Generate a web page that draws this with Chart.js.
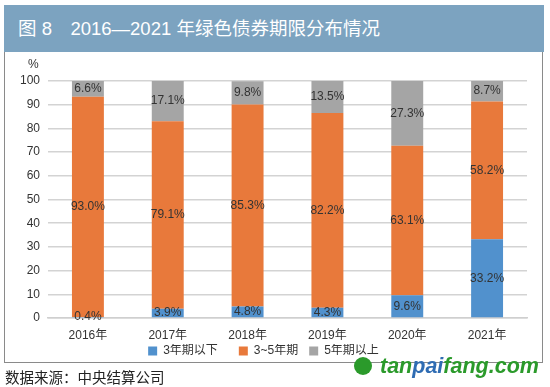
<!DOCTYPE html>
<html lang="zh">
<head>
<meta charset="UTF-8">
<title>2016—2021年绿色债券期限分布情况</title>
<script src="https://cdn.jsdelivr.net/npm/chart.js"></script>
<style>
    body {
        margin: 0;
        width: 550px;
        height: 387px;
        position: relative;
        background: #ffffff;
        font-family: "Liberation Sans", "Noto Sans CJK SC", sans-serif;
        overflow: hidden;
    }
    .banner {
        position: absolute;
        left: 4px; top: 5px;
        width: 540px; height: 47px;
        background: #7ca3c0;
        color: #fff;
        font-size: 18.5px;
        line-height: 47px;
        padding-left: 14px;
        box-sizing: border-box;
    }
    .frame {
        position: absolute;
        left: 4px; top: 52px;
        width: 539px; height: 311px;
        border: 1px solid #8a8a8a;
        border-top: none;
        box-sizing: border-box;
    }
    #wrap {
        position: absolute;
        left: 0; top: 52px;
        width: 550px; height: 315px;
    }
    .unit {
        position: absolute;
        left: 28px; top: 57px;
        font-size: 12px;
        color: #333;
    }
    .source {
        position: absolute;
        left: 5px; top: 366px;
        font-size: 14.5px;
        color: #222;
    }
    .mark {
        position: absolute;
        left: 354px; top: 354px;
        font: italic bold 21.5px "Liberation Sans", sans-serif;
        color: #2b9a2b;
    }
    .mark .dot {
        display: inline-block;
        width: 18px; height: 18px;
        border-radius: 50%;
        background: #2b9a2b;
        vertical-align: -2px;
        margin-right: 8px;
    }
    .mark .pai { color: #2f6cb3; }
</style>
</head>
<body>
<div class="banner">图 8　2016—2021 年绿色债券期限分布情况</div>
<div class="frame"></div>
<div id="wrap"><canvas id="chart"></canvas></div>
<div class="unit">%</div>
<div class="source">数据来源：中央结算公司</div>
<div class="mark"><span class="dot"></span>tan<span class="pai">pai</span>fang.com</div>

<script>
    const years = ['2016年', '2017年', '2018年', '2019年', '2020年', '2021年'];
    const shortTerm = [0.4, 3.9, 4.8, 4.3, 9.6, 33.2];   // 3年期以下
    const midTerm = [93.0, 79.1, 85.3, 82.2, 63.1, 58.2]; // 3~5年期
    const longTerm = [6.6, 17.1, 9.8, 13.5, 27.3, 8.7];   // 5年期以上
    const yTicks = [0, 10, 20, 30, 40, 50, 60, 70, 80, 90, 100];

    const fontFamily = '"Liberation Sans", "Noto Sans CJK SC", sans-serif';
    // 图例项之间的空白（原图间距不均匀）
    const legendGaps = ['      ', '   ', ''];

    // 数值标签画在每段柱子中间
    const segmentLabels = {
        id: 'segmentLabels',
        afterDatasetsDraw(chart) {
            const ctx = chart.ctx;
            ctx.save();
            ctx.font = '12px ' + fontFamily;
            ctx.fillStyle = '#333';
            ctx.textAlign = 'center';
            ctx.textBaseline = 'middle';
            chart.data.datasets.forEach((ds, i) => {
                const meta = chart.getDatasetMeta(i);
                meta.data.forEach((bar, j) => {
                    const mid = (bar.y + bar.base) / 2;
                    ctx.fillText(ds.data[j].toFixed(1) + '%', bar.x, mid);
                });
            });
            ctx.restore();
        }
    };

    new Chart(document.getElementById('chart'), {
        type: 'bar',
        data: {
            labels: years,
            datasets: [
                { label: '3年期以下', data: shortTerm, backgroundColor: '#5191cd' },
                { label: '3~5年期', data: midTerm, backgroundColor: '#e8793b' },
                { label: '5年期以上', data: longTerm, backgroundColor: '#a5a5a5' }
            ]
        },
        options: {
            responsive: true,
            maintainAspectRatio: false,
            animation: false,
            categoryPercentage: 1,
            barPercentage: 0.4,
            layout: { padding: { top: 29, right: 23, left: 0, bottom: 0 } },
            plugins: {
                legend: {
                    position: 'bottom',
                    labels: {
                        boxWidth: 9,
                        boxHeight: 9,
                        padding: 1,
                        color: '#333',
                        font: { size: 12, family: fontFamily },
                        generateLabels(chart) {
                            const items = Chart.defaults.plugins.legend.labels.generateLabels(chart);
                            items.forEach((it, i) => { it.text += legendGaps[i]; });
                            return items;
                        }
                    }
                },
                tooltip: { enabled: false }
            },
            scales: {
                x: {
                    stacked: true,
                    grid: { display: false, drawTicks: false },
                    border: { color: '#cfcfcf', width: 1.5 },
                    ticks: { color: '#333', padding: 10, font: { size: 12, family: fontFamily } },
                    afterFit(scale) { scale.height = 26; }
                },
                y: {
                    stacked: true,
                    min: 0,
                    max: 100,
                    afterBuildTicks(scale) { scale.ticks = yTicks.map(v => ({ value: v })); },
                    grid: { color: '#d3d3d3', lineWidth: 1.5, drawTicks: false },
                    border: { display: false },
                    ticks: { color: '#333', padding: 8, font: { size: 12, family: fontFamily } },
                    afterFit(scale) { scale.width = 48; }
                }
            }
        },
        plugins: [segmentLabels]
    });
</script>
</body>
</html>
